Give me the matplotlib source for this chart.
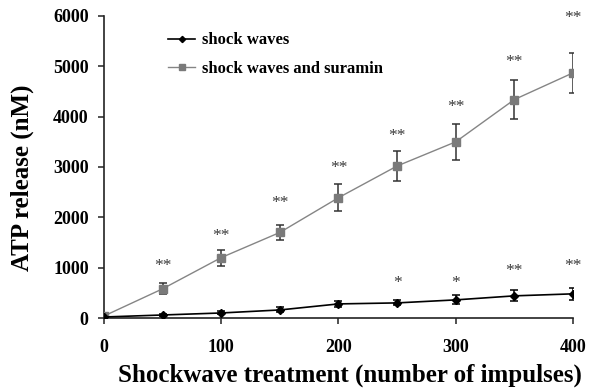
import matplotlib
matplotlib.use("Agg")
import matplotlib.pyplot as plt

impulses = [0, 50, 100, 150, 200, 250, 300, 350, 400]
shock = [20, 60, 100, 160, 280, 300, 360, 440, 480]
shock_err = [0, 20, 30, 50, 60, 50, 90, 110, 120]
suramin = [40, 580, 1200, 1700, 2390, 3020, 3500, 4340, 4870]
suramin_err = [0, 110, 160, 150, 270, 300, 360, 390, 400]
sur_stars = ["", "**", "**", "**", "**", "**", "**", "**", "**"]
sur_star_y = [0, 1030, 1630, 2290, 2980, 3620, 4200, 5080, 5960]
shock_stars = ["", "", "", "", "", "*", "*", "**", "**"]
shock_star_y = [0, 0, 0, 0, 0, 700, 700, 930, 1030]
xticks = [0, 100, 200, 300, 400]
yticks = [0, 1000, 2000, 3000, 4000, 5000, 6000]

plt.rcParams['font.family'] = ['Liberation Serif', 'DejaVu Serif']

fig = plt.figure(figsize=(5.96, 3.88), dpi=100)
ax = fig.add_axes([0.1745, 0.1804, 0.7869, 0.7784])

# error bars
ax.errorbar(impulses, suramin, yerr=suramin_err, fmt='none',
            ecolor='#333333', elinewidth=1.1, capsize=3, capthick=1.1, zorder=2)
ax.errorbar(impulses, shock, yerr=shock_err, fmt='none',
            ecolor='black', elinewidth=1.1, capsize=3, capthick=1.1, zorder=2)

# lines
l2, = ax.plot(impulses, suramin, color='#858585', marker='s', markersize=6,
              markerfacecolor='#7a7a7a', markeredgecolor='#7a7a7a', lw=1.0,
              label='shock waves and suramin', zorder=3)
l1, = ax.plot(impulses, shock, color='black', marker='D', markersize=4.5,
              lw=1.2, label='shock waves', zorder=4)

for x, y, s in zip(impulses, sur_star_y, sur_stars):
    if s:
        ax.text(x, y, s, ha='center', va='center', fontsize=12.5,
                color='#3a3a3a')
for x, y, s in zip(impulses, shock_star_y, shock_stars):
    if s:
        ax.text(x, y, s, ha='center', va='center', fontsize=12.5,
                color='#3a3a3a')

ax.set_xlim(0, 400)
ax.set_ylim(0, 6000)
ax.set_xticks(xticks)
ax.set_yticks(yticks)
for sp in ['top', 'right']:
    ax.spines[sp].set_visible(False)
for sp in ['left', 'bottom']:
    ax.spines[sp].set_linewidth(1.2)
    ax.spines[sp].set_color('#222222')
ax.tick_params(direction='out', length=4, width=1.1, colors='#222222',
               labelsize=13)
ax.tick_params(axis='x', pad=11)
ax.tick_params(axis='y', pad=7)
for lab in ax.get_xticklabels() + ax.get_yticklabels():
    lab.set_fontweight('bold')
    lab.set_color('black')

ax.set_xlabel('Shockwave treatment (number of impulses)', fontsize=18,
              fontweight='bold')
ax.set_ylabel('ATP release (nM)', fontsize=18, fontweight='bold')
ax.xaxis.set_label_coords(0.524, -0.150)
ax.yaxis.set_label_coords(-0.150, 0.464)

leg = ax.legend([l1, l2], ['shock waves', 'shock waves and suramin'],
                loc='upper left', bbox_to_anchor=(0.105, 0.995), frameon=False,
                prop={'weight': 'bold', 'size': 12}, handlelength=1.6,
                handletextpad=0.4, labelspacing=0.75, markerscale=0.7)

fig.savefig('out.png', dpi=100)
